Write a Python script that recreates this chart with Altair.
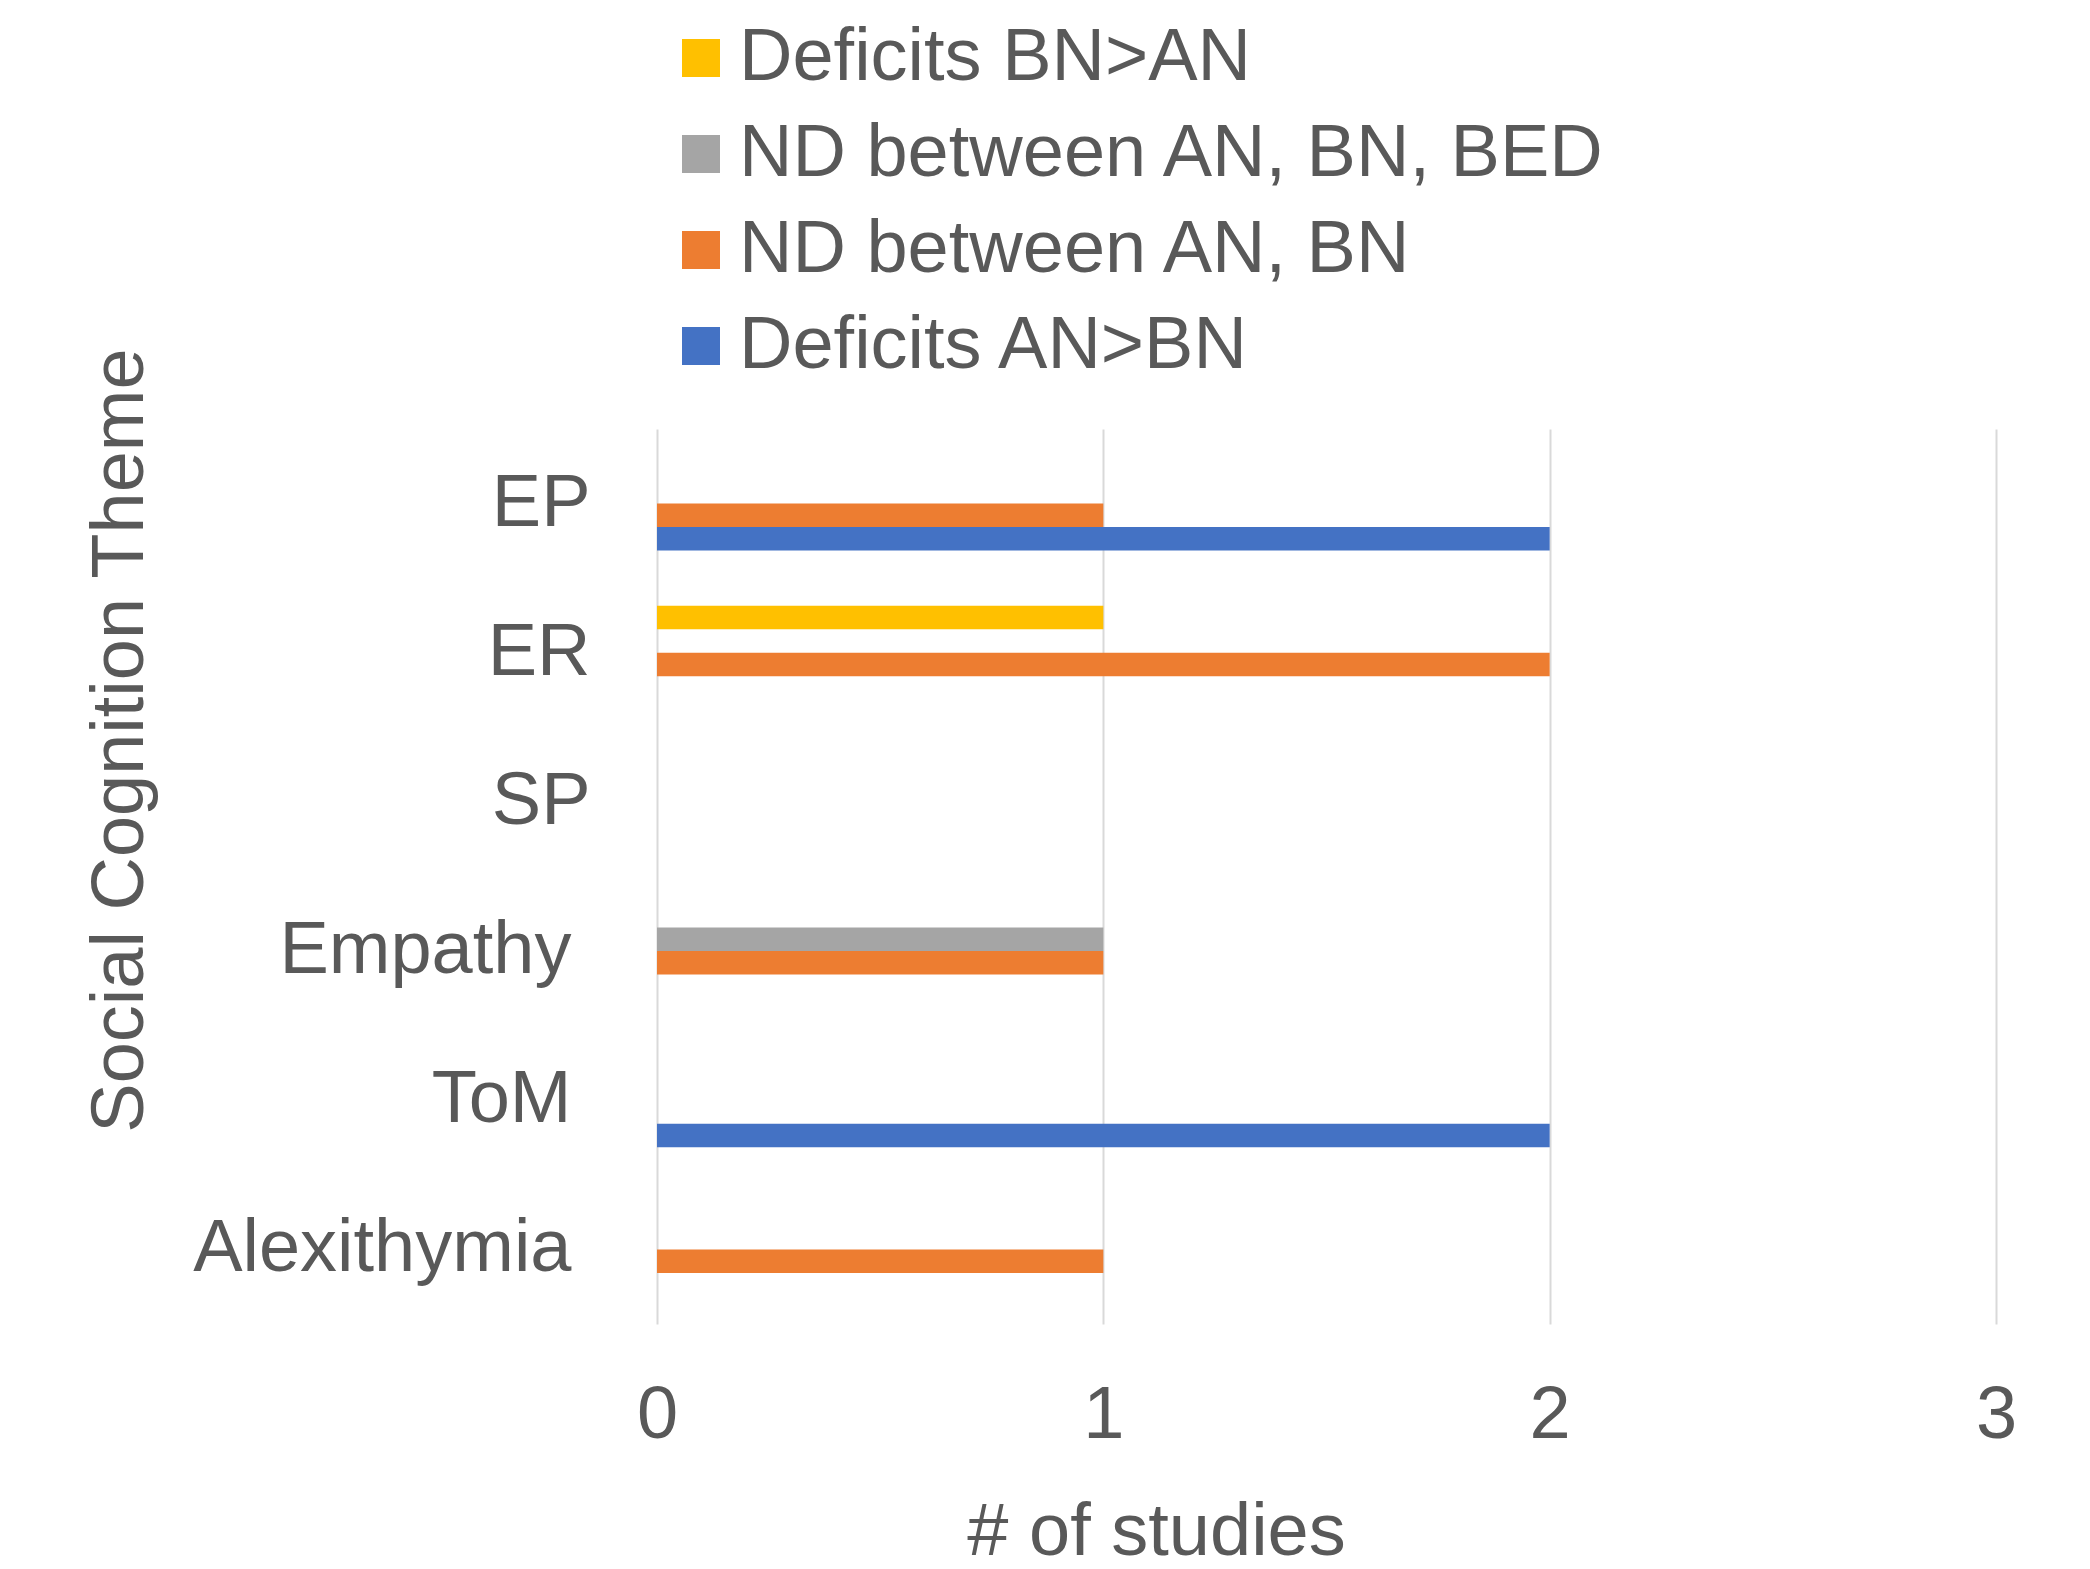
import altair as alt
import pandas as pd

categories = ["EP", "ER", "SP", "Empathy", "ToM", "Alexithymia"]
series = ["Deficits BN>AN", "ND between AN, BN, BED", "ND between AN, BN", "Deficits AN>BN"]
colors = ["#FFC000", "#A5A5A5", "#ED7D31", "#4472C4"]

deficits_bn_an = [0, 1, 0, 0, 0, 0]
nd_an_bn_bed = [0, 0, 0, 1, 0, 0]
nd_an_bn = [1, 2, 0, 1, 0, 1]
deficits_an_bn = [2, 0, 0, 0, 2, 0]

x_ticks = [0, 1, 2, 3]

values_by_series = [deficits_bn_an, nd_an_bn_bed, nd_an_bn, deficits_an_bn]
rows = []
for s, vals in zip(series, values_by_series):
    for c, v in zip(categories, vals):
        if v > 0:
            rows.append({"theme": c, "series": s, "studies": v})
df = pd.DataFrame(rows)

FONT = "Liberation Sans"
TXT = "#595959"

chart = alt.Chart(df).mark_bar().encode(
    x=alt.X(
        "studies:Q",
        title="# of studies",
        scale=alt.Scale(domain=[0, 3], nice=False),
        axis=alt.Axis(
            values=x_ticks,
            format="d",
            grid=True,
            gridColor="#D9D9D9",
            gridWidth=2,
            domain=False,
            ticks=False,
            labelFlush=False,
            labelFont=FONT,
            labelFontSize=74,
            labelColor=TXT,
            labelPadding=55,
            titleFont=FONT,
            titleFontSize=74,
            titleFontWeight="normal",
            titleColor=TXT,
            titleX=499,
            titleY=230,
            titleAlign="center",
            titleBaseline="alphabetic",
        ),
    ),
    y=alt.Y(
        "theme:N",
        title="Social Cognition Theme",
        sort=categories,
        scale=alt.Scale(domain=categories, paddingInner=0.37, paddingOuter=0.185),
        axis=alt.Axis(
            grid=False,
            domain=False,
            ticks=False,
            labelFont=FONT,
            labelFontSize=74,
            labelColor=TXT,
            labelPadding={
                "condition": {
                    "test": "indexof(['Empathy','ToM','Alexithymia'], datum.value) >= 0",
                    "value": 86,
                },
                "value": 67,
            },
            labelLimit=1000,
            titleFont=FONT,
            titleFontSize=74,
            titleFontWeight="normal",
            titleColor=TXT,
            titleAngle=270,
            titleX=-515,
            titleY=311,
            titleAlign="center",
            titleBaseline="alphabetic",
        ),
    ),
    yOffset=alt.YOffset(
        "series:N",
        sort=series,
        scale=alt.Scale(domain=series, paddingInner=0, paddingOuter=0),
    ),
    color=alt.Color(
        "series:N",
        sort=series,
        scale=alt.Scale(domain=series, range=colors),
        legend=alt.Legend(
            title=None,
            orient="none",
            legendX=7,
            legendY=-408,
            direction="vertical",
            symbolType="square",
            symbolSize=1444,
            symbolStrokeWidth=0,
            labelFont=FONT,
            labelFontSize=74,
            labelColor=TXT,
            labelOffset=1,
            labelLimit=2000,
            rowPadding=22,
            padding=0,
        ),
    ),
).properties(
    width=1339,
    height=895,
    autosize=alt.AutoSizeParams(type="none"),
    padding={"left": 657, "top": 429, "right": 94, "bottom": 245},
    background="white",
).configure_view(stroke=None)

chart.save("out.html", embed_options={"renderer": "svg", "actions": False})
